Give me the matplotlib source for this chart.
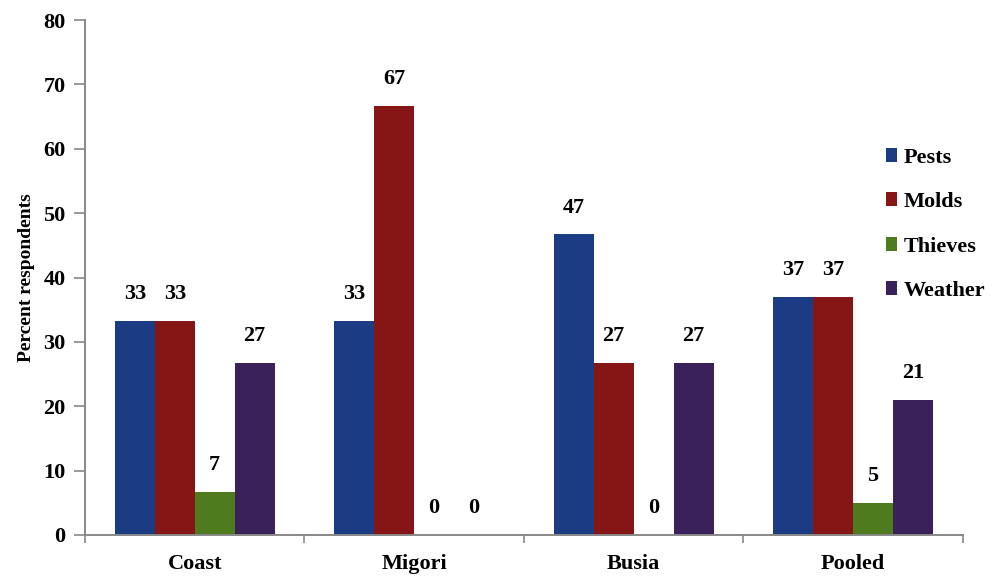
import numpy as np
import matplotlib.pyplot as plt

# Data
regions = ['Coast', 'Migori', 'Busia', 'Pooled']
series = ['Pests', 'Molds', 'Thieves', 'Weather']
pests = [33.3, 33.3, 46.7, 37.0]
molds = [33.3, 66.7, 26.7, 37.0]
thieves = [6.7, 0.0, 0.0, 5.0]
weather = [26.7, 0.0, 26.7, 21.0]
colors = ['#1b3c82', '#861616', '#4f7b1f', '#3a2159']

plt.rcParams['font.family'] = ['Liberation Serif', 'DejaVu Serif']
plt.rcParams['font.weight'] = 'bold'

fig = plt.figure(figsize=(9.93, 5.76), dpi=100)
ax = fig.add_axes([0.0856, 0.0712, 0.884, 0.894])

x = np.arange(len(regions))
w = 0.182
values = [pests, molds, thieves, weather]
for i, (name, vals) in enumerate(zip(series, values)):
    pos = x + (i - 1.5) * w
    bars = ax.bar(pos, vals, w, color=colors[i], label=name)
    for b, v in zip(bars, vals):
        ax.text(b.get_x() + w / 2, v + 2.6, '%d' % round(v), ha='center', va='bottom',
                fontsize=16, fontweight='bold')

ax.set_xlim(-0.5, 3.5)
ax.set_ylim(0, 80)
ax.set_yticks(np.arange(0, 81, 10))
ax.set_xticks(x)
ax.set_xticklabels(regions, fontsize=16, fontweight='bold')
ax.set_xticks(np.arange(-0.5, 3.6, 1), minor=True)
ax.tick_params(axis='x', which='major', length=0, pad=14)
ax.tick_params(axis='x', which='minor', length=6, color='#888888', width=1.2)
ax.tick_params(axis='y', length=8, color='#888888', width=1.2, labelsize=16, pad=6)
for t in ax.get_yticklabels():
    t.set_fontweight('bold')

for s in ['top', 'right']:
    ax.spines[s].set_visible(False)
for s in ['left', 'bottom']:
    ax.spines[s].set_color('#888888')
    ax.spines[s].set_linewidth(1.4)

ax.set_ylabel('Percent respondents', fontsize=14, fontweight='bold', labelpad=6)

ax.legend(loc='center left', bbox_to_anchor=(0.89, 0.603), frameon=False,
          handlelength=0.5, handleheight=0.6, handletextpad=0.3,
          labelspacing=1.1, prop={'weight': 'bold', 'size': 16})

fig.savefig('out.png', dpi=100)
